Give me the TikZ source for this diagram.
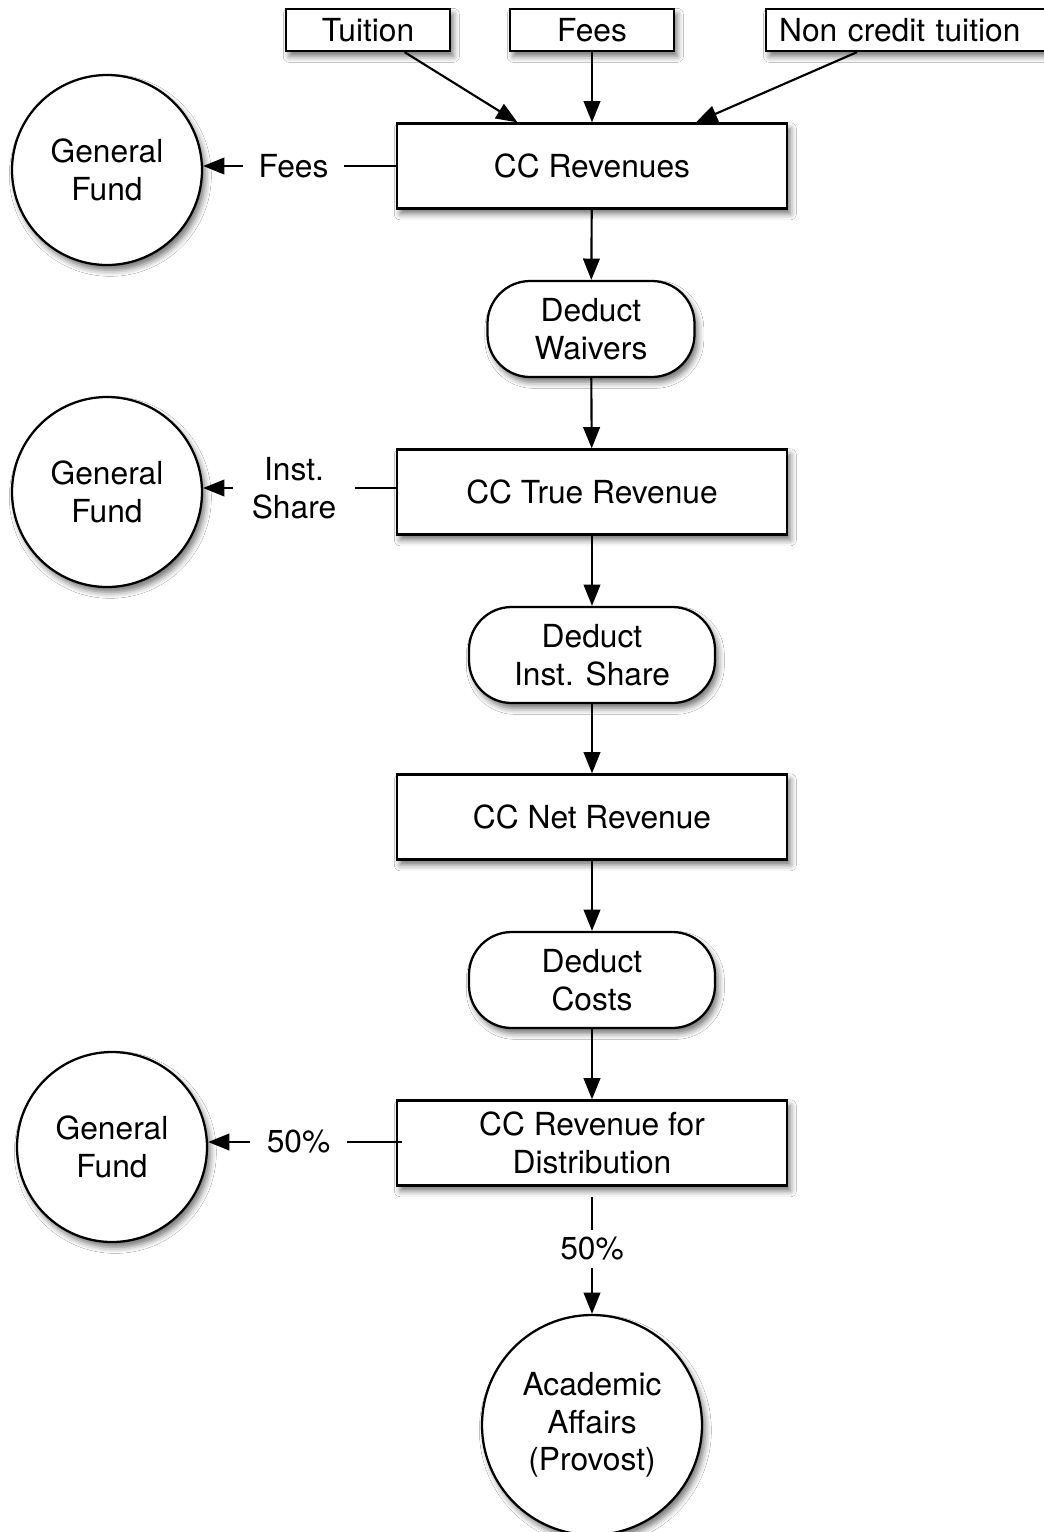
\documentclass[tikz,border=0pt]{standalone}
\usepackage{fontspec}
\setmainfont{TeX Gyre Heros}
\usetikzlibrary{arrows.meta,shadows.blur,calc}
\begin{document}
\begin{tikzpicture}[x=0.75pt,y=-0.75pt,
  every node/.style={font=\fontsize{23.8}{28.2}\selectfont, align=center},
  shd/.style={blur shadow={shadow xshift=2.5pt, shadow yshift=-4pt, shadow blur radius=4.5pt, shadow opacity=55}},
  bigbox/.style={draw, line width=1.7pt, fill=white, inner sep=0pt, minimum width=292.5pt, minimum height=63.75pt, shd},
  topbox/.style={draw, line width=1.7pt, fill=white, inner sep=0pt, minimum width=123pt, minimum height=31.5pt, shd},
  pill/.style={draw, line width=1.7pt, fill=white, inner sep=0pt, rounded corners=32pt, minimum height=72pt, shd},
  fund/.style={draw, circle, line width=1.7pt, fill=white, inner sep=0pt, minimum size=142.5pt, shd},
  lbl/.style={inner sep=0pt, minimum height=20pt},
  conn/.style={line width=1.6pt},
  arr/.style={conn, -{Triangle[length=16pt,width=12.5pt]}}]
\useasboundingbox (0,0) rectangle (1044,1532);
\fill[white] (0,0) rectangle (1044,1532);
\begin{scope}
\clip (0,0) rectangle (1044,1532);
% top inputs
\node[topbox] (tui) at (368,30) {Tuition};
\node[topbox] (fee) at (592,30) {Fees};
\node[draw, line width=1.7pt, fill=white, inner ysep=0pt, inner xsep=9.75pt, minimum height=31.5pt, text width=195pt, align=left, anchor=west, shd] (ncr) at (765,30) {Non credit tuition};
% main flow
\node[bigbox] (rev) at (592,166) {CC Revenues};
\node[pill, minimum width=155.25pt] (wai) at (591,329) {Deduct\\Waivers};
\node[bigbox] (tru) at (592,492) {CC True Revenue};
\node[pill, minimum width=184.5pt] (ins) at (592,655) {Deduct\\Inst. Share};
\node[bigbox] (net) at (592,817) {CC Net Revenue};
\node[pill, minimum width=184.5pt] (cst) at (592,980) {Deduct\\Costs};
\node[bigbox] (dis) at (592,1143) {CC Revenue for\\Distribution};
\node[fund, minimum size=165pt] (aca) at (592,1425) {Academic\\Affairs\\(Provost)};
% general funds
\node[fund] (gf1) at (107,170) {General\\Fund};
\node[fund] (gf2) at (107,492) {General\\Fund};
\node[fund] (gf3) at (112,1147) {General\\Fund};
% labels
\node[lbl, minimum width=75.75pt] (l1) at (293.5,166) {Fees};
\node[lbl, minimum width=91.5pt] (l2) at (294,488) {Inst.\\Share};
\node[lbl, minimum width=72.75pt] (l3) at (298.5,1142) {50\%};
\node[lbl, minimum height=28.5pt] (l4) at (592,1249) {50\%};
% connectors
\draw[arr] ($(tui.south west)!0.72!(tui.south east)$) -- ($(rev.north west)!0.31!(rev.north east)$);
\draw[arr] (fee.south) -- (rev.north);
\draw[arr] ($(ncr.south west)+(92,0)$) -- ($(rev.north west)!0.765!(rev.north east)$);
\draw[arr] (rev) -- (wai);
\draw[arr] (wai) -- (tru);
\draw[arr] (tru) -- (ins);
\draw[arr] (ins) -- (net);
\draw[arr] (net) -- (cst);
\draw[arr] (cst) -- (dis);
\draw[conn] (rev.west |- l1) -- (l1.east);
\draw[arr] (l1.west) -- (l1 -| gf1.east);
\draw[conn] (tru.west |- l2) -- (l2.east);
\draw[arr] (l2.west) -- (l2 -| gf2.east);
\draw[conn] ($(dis.west |- l3)+(6,0)$) -- (l3.east);
\draw[arr] (l3.west) -- (l3 -| gf3.east);
\draw[conn, shorten <=7.5pt] (dis.south) -- (l4.north);
\draw[arr] (l4.south) -- (aca.north);
\end{scope}
\end{tikzpicture}
\end{document}
